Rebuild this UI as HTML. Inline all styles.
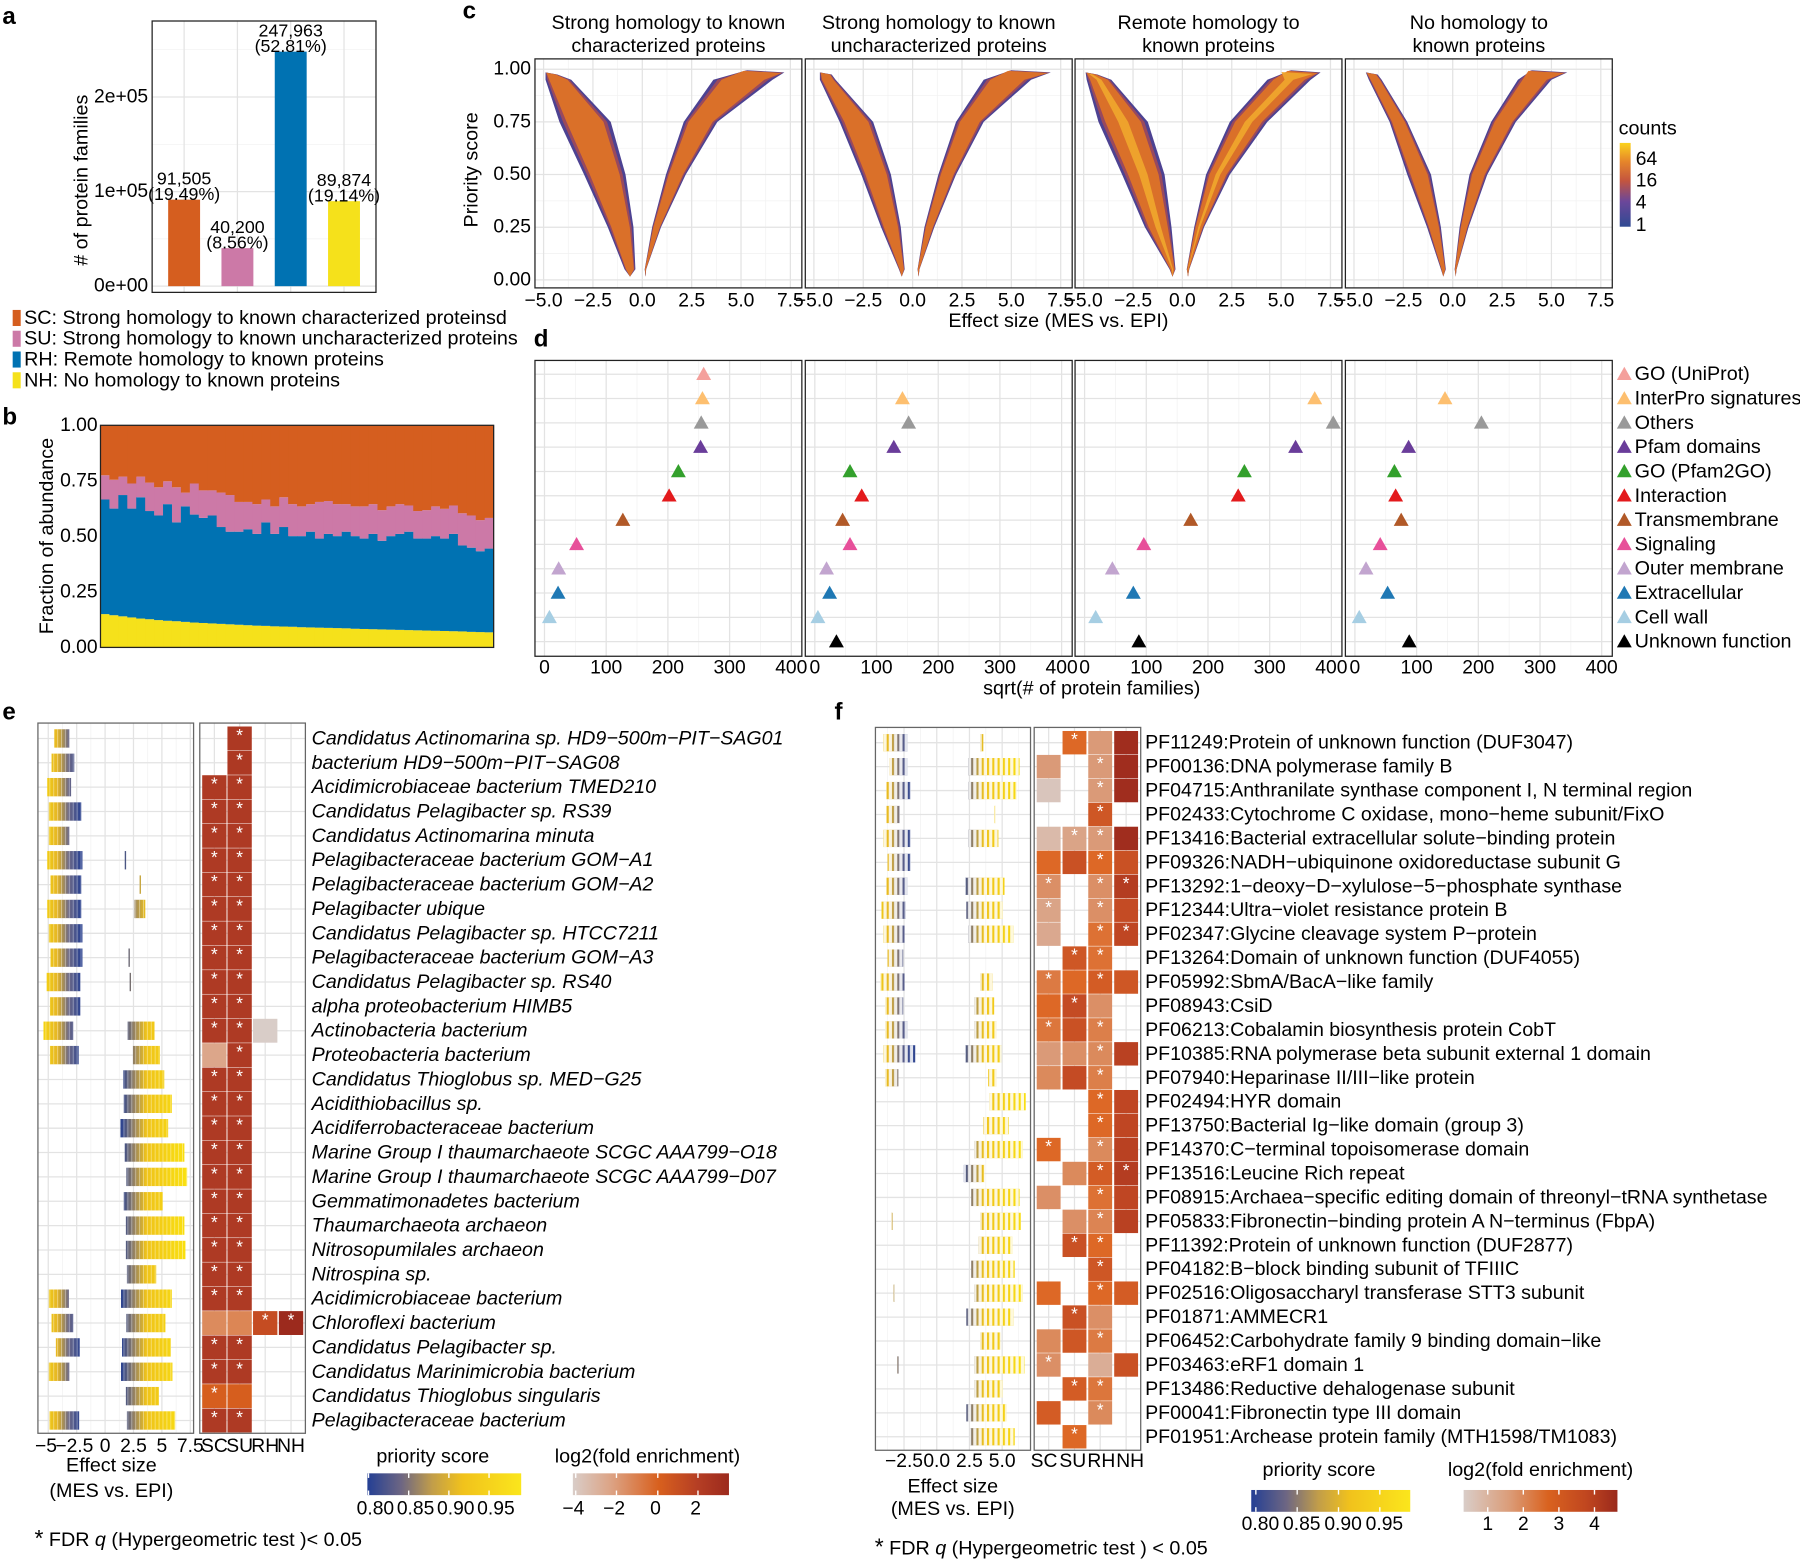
<!DOCTYPE html>
<html><head><meta charset="utf-8"><style>
html,body{margin:0;padding:0;background:#fff;}
svg{display:block;font-family:"Liberation Sans",Arial,sans-serif;}
</style></head><body>
<svg id="fig" xmlns="http://www.w3.org/2000/svg" width="1800" height="1560" viewBox="0 0 1568 1359">
<defs>
<linearGradient id="gCounts" x1="0" y1="1" x2="0" y2="0">
<stop offset="0" stop-color="#2f4a93"/><stop offset="0.3" stop-color="#6b479a"/><stop offset="0.55" stop-color="#c4553e"/><stop offset="0.78" stop-color="#e6862a"/><stop offset="1" stop-color="#fbd31c"/></linearGradient>
<linearGradient id="gPrio" x1="0" y1="0" x2="1" y2="0">
<stop offset="0" stop-color="#243f94"/><stop offset="0.22" stop-color="#6d6683"/><stop offset="0.42" stop-color="#c19d4a"/><stop offset="0.62" stop-color="#f1c21c"/><stop offset="1" stop-color="#fbe61c"/></linearGradient>
<linearGradient id="gLogE" x1="0" y1="0" x2="1" y2="0">
<stop offset="0" stop-color="#d9cdc8"/><stop offset="0.25" stop-color="#dca283"/><stop offset="0.55" stop-color="#d8601e"/><stop offset="0.8" stop-color="#b53e24"/><stop offset="1" stop-color="#9c2a1d"/></linearGradient>
<linearGradient id="gLogF" x1="0" y1="0" x2="1" y2="0">
<stop offset="0" stop-color="#d9cdc8"/><stop offset="0.3" stop-color="#db9c78"/><stop offset="0.55" stop-color="#d9621f"/><stop offset="0.8" stop-color="#c0461f"/><stop offset="1" stop-color="#9a291c"/></linearGradient>
<pattern id="stE" width="3.4" height="30" patternUnits="userSpaceOnUse"><rect x="2.2" y="0" width="0.7" height="30" fill="#fff" opacity="0.45"/></pattern>
<pattern id="stF" width="4.6" height="30" patternUnits="userSpaceOnUse"><rect x="1.4" y="0" width="2.8" height="30" fill="#fff" opacity="0.85"/></pattern>
</defs>

<text x="2" y="21" font-size="21" font-weight="bold">a</text>
<text x="2" y="370" font-size="21" font-weight="bold">b</text>
<text x="403" y="16" font-size="21" font-weight="bold">c</text>
<text x="465" y="302" font-size="21" font-weight="bold">d</text>
<text x="2" y="627" font-size="21" font-weight="bold">e</text>
<text x="727" y="627" font-size="21" font-weight="bold">f</text>

<text transform="translate(76,157) rotate(-90)" text-anchor="middle" font-size="17.2"># of protein families</text>
<text transform="translate(46,467) rotate(-90)" text-anchor="middle" font-size="17.2">Fraction of abundance</text>
<text transform="translate(416,148) rotate(-90)" text-anchor="middle" font-size="17.2">Priority score</text>
<text x="922" y="285" text-anchor="middle" font-size="17.2">Effect size (MES vs. EPI)</text>
<text x="951" y="605" text-anchor="middle" font-size="17.2">sqrt(# of protein families)</text>
<text x="1410" y="117" font-size="17.2">counts</text>

<text x="97" y="1282" text-anchor="middle" font-size="17.2">Effect size</text>
<text x="97" y="1304" text-anchor="middle" font-size="17.2">(MES vs. EPI)</text>
<text x="30" y="1347" font-size="17.2"><tspan font-size="20">*</tspan> FDR <tspan font-style="italic">q</tspan> (Hypergeometric test )&lt; 0.05</text>
<text x="377" y="1274" text-anchor="middle" font-size="17.2">priority score</text>
<text x="564" y="1274" text-anchor="middle" font-size="17.2">log2(fold enrichment)</text>

<text x="830" y="1300" text-anchor="middle" font-size="17.2">Effect size</text>
<text x="830" y="1320" text-anchor="middle" font-size="17.2">(MES vs. EPI)</text>
<text x="762" y="1354" font-size="17.2"><tspan font-size="20">*</tspan> FDR <tspan font-style="italic">q</tspan> (Hypergeometric test ) &lt; 0.05</text>
<text x="1149" y="1286" text-anchor="middle" font-size="17.2">priority score</text>
<text x="1342" y="1286" text-anchor="middle" font-size="17.2">log2(fold enrichment)</text>

<rect x="1411" y="124.5" width="9.5" height="73" fill="url(#gCounts)"/>
<rect x="320" y="1283.5" width="134" height="19" fill="url(#gPrio)"/>
<rect x="499" y="1283.5" width="136" height="19" fill="url(#gLogE)"/>
<rect x="1090" y="1298" width="138.5" height="19" fill="url(#gPrio)"/>
<rect x="1275" y="1298" width="134" height="19" fill="url(#gLogF)"/>
</svg>
<script>
const NS='http://www.w3.org/2000/svg';
const svg=document.getElementById('fig');
const FS=17.2, TS=16.8, LS=17.1;
function mk(tag,at,par){const e=document.createElementNS(NS,tag);for(const k in at)e.setAttribute(k,at[k]);(par||svg).appendChild(e);return e;}
function T(x,y,s,size,anchor,extra){const t=mk('text',Object.assign({x:x,y:y,'font-size':size,'text-anchor':anchor||'start','dominant-baseline':'central'},extra||{}));t.textContent=s;return t;}
function lerpHex(a,b,t){const pa=[1,3,5].map(i=>parseInt(a.substr(i,2),16)),pb=[1,3,5].map(i=>parseInt(b.substr(i,2),16));return 'rgb('+pa.map((v,i)=>Math.round(v+(pb[i]-v)*t)).join(',')+')';}
function scaleColor(stops,v){if(v<=stops[0][0])return stops[0][1];for(let i=1;i<stops.length;i++){if(v<=stops[i][0]){const t=(v-stops[i-1][0])/(stops[i][0]-stops[i-1][0]);return lerpHex(stops[i-1][1],stops[i][1],t);}}return stops[stops.length-1][1];}
function gline(x1,y1,x2,y2,major,name){const l=mk('line',{x1:x1,y1:y1,x2:x2,y2:y2,stroke:major?'#e3e3e3':'#f1f1f1','stroke-width':major?1.1:0.6});

return l;}
function box(x,y,w,h,name,col){const r=mk('rect',{x:x,y:y,width:w,height:h,fill:'none',stroke:col||'#222','stroke-width':1.1});

return r;}

/* ================= PANEL A ================= */
const aCats=['SC','SU','RH','NH'];
const aCounts=[91505,40200,247963,89874];
const aCountLabels=['91,505','40,200','247,963','89,874'];
const aPctLabels=['(19.49%)','(8.56%)','(52.81%)','(19.14%)'];
const aTicks=[0,100000,200000];
const aTickLabels=['0e+00','1e+05','2e+05'];
const aLegendText=['SC: Strong homology to known characterized proteinsd','SU: Strong homology to known uncharacterized proteins','RH: Remote homology to known proteins','NH: No homology to known proteins'];
const catColors=['#d55e1f','#cc79a7','#0072b2','#f5e11b'];
const ax=i=>132.5+(i+0.6)*46.43, ay=v=>249.3-v*82.4/1e5;
[50000,150000,250000].forEach(v=>gline(132.5,ay(v),327.5,ay(v),false,'a-minor-gridline'));
aTicks.forEach(v=>gline(132.5,ay(v),327.5,ay(v),true,'a-major-gridline'));
aCats.forEach((c,i)=>gline(ax(i),18.3,ax(i),254.7,true,'a-x-gridline'));
aCats.forEach((c,i)=>{
 const r=mk('rect',{x:ax(i)-13.9,y:ay(aCounts[i]),width:27.8,height:ay(0)-ay(aCounts[i]),fill:catColors[i]});
 
 
 const t1=T(ax(i),ay(aCounts[i])-18.5,aCountLabels[i],15.5,'middle');
 
 
 const t2=T(ax(i),ay(aCounts[i])-5,aPctLabels[i],15.5,'middle');
 
 
});
aTicks.forEach((v,i)=>{const t=T(129,ay(v),aTickLabels[i],TS,'end');
 
 });
box(132.5,18.3,195,236.4,'a-plot-border');
aLegendText.forEach((s,i)=>{const y=277+18.1*i;
 const r=mk('rect',{x:11,y:y-7,width:7,height:14,fill:catColors[i]});
 
 
 const t=T(21,y,s,FS,'start');
 
 });

/* ================= PANEL B ================= */
const bYellow=[0.15,0.145,0.14,0.135,0.13,0.127,0.123,0.12,0.118,0.115,0.112,0.11,0.108,0.106,0.104,0.102,0.1,0.098,0.097,0.095,0.094,0.093,0.091,0.09,0.089,0.088,0.087,0.086,0.084,0.083,0.082,0.081,0.08,0.079,0.078,0.077,0.076,0.075,0.074,0.073,0.072,0.07,0.069,0.068];
const bBlueTop=[0.666,0.625,0.686,0.625,0.676,0.614,0.594,0.645,0.563,0.635,0.598,0.583,0.594,0.542,0.521,0.521,0.532,0.511,0.563,0.511,0.542,0.501,0.501,0.521,0.49,0.511,0.501,0.521,0.501,0.49,0.511,0.48,0.501,0.511,0.521,0.49,0.49,0.501,0.49,0.511,0.459,0.449,0.433,0.445];
const bPinkTop=[0.775,0.755,0.769,0.738,0.769,0.742,0.721,0.748,0.721,0.697,0.738,0.707,0.707,0.697,0.686,0.655,0.655,0.645,0.666,0.635,0.676,0.645,0.635,0.645,0.655,0.659,0.645,0.645,0.635,0.635,0.645,0.618,0.635,0.645,0.639,0.614,0.618,0.635,0.624,0.639,0.604,0.594,0.573,0.583];
const bTicks=[0,0.25,0.5,0.75,1];
const bTickLabels=['0.00','0.25','0.50','0.75','1.00'];
const bw=342.5/bYellow.length, bx=i=>87.5+i*bw, by=s=>564-193.5*s;
bYellow.forEach((yv,i)=>{
 const segs=[[0,yv,catColors[3],'nh'],[yv,bBlueTop[i],catColors[2],'rh'],[bBlueTop[i],bPinkTop[i],catColors[1],'su'],[bPinkTop[i],1,catColors[0],'sc']];
 segs.forEach(s=>{const r=mk('rect',{x:bx(i),y:by(s[1]),width:bw+0.4,height:by(s[0])-by(s[1]),fill:s[2]});
  
  });
});
bTicks.forEach((v,i)=>{const t=T(85,by(v),bTickLabels[i],TS,'end');
 
 });
box(87.5,370.5,342.5,193.5,'b-plot-border');

/* ================= PANEL C ================= */
const cTitles=[['Strong homology to known','characterized proteins'],['Strong homology to known','uncharacterized proteins'],['Remote homology to','known proteins'],['No homology to','known proteins']];
const cScores=[0.05,0.25,0.5,0.75,0.95];
const cLeftOuter=[[-0.9,-1.75,-2.95,-4.2,-4.9],[-0.7,-1.6,-2.6,-3.7,-4.7],[-0.65,-1.9,-3.05,-4.25,-4.85],[-0.6,-1.3,-2.3,-3.2,-4.25]];
const cLeftInner=[[-0.35,-0.45,-0.85,-1.6,-3.6],[-0.4,-0.6,-1.1,-2.0,-3.9],[-0.35,-0.55,-0.9,-1.75,-3.6],[-0.35,-0.6,-1.1,-2.3,-3.6]];
const cLeftTop=[-4.6,-4.4,-4.6,-4.1];
const cRightInner=[[0.12,0.5,1.2,2.1,3.6],[0.25,0.6,1.3,2.2,3.6],[0.22,0.6,1.2,2.4,4.3],[0.1,0.35,0.85,1.95,3.3]];
const cRightOuter=[[0.2,0.95,2.2,3.8,6.6],[0.35,1.1,2.2,3.6,6.0],[0.35,1.1,2.4,4.3,6.5],[0.2,0.8,1.75,3.2,5.0]];
const cRightInnerTop=[5.3,5.0,5.5,4.0];
const cRightTip=[7.2,7.0,7.0,5.8];
const cXTicks=[-5,-2.5,0,2.5,5,7.5];
const cXTickLabels=['\u22125.0','\u22122.5','0.0','2.5','5.0','7.5'];
const cYTicks=[0,0.25,0.5,0.75,1];
const cYTickLabels=['0.00','0.25','0.50','0.75','1.00'];
const cL=[466,701.5,936.5,1172], cW=232.5;
const cx=(f,e)=>cL[f]+93.5+17.2*e, cy=s=>243.8-183.5*s;
function armPath(f,edgeA,edgeB,tip,a0,a1,bottom){
 const pts=[];
 for(let i=0;i<cScores.length;i++){const e=edgeA[i]+(edgeB[i]-edgeA[i])*a0;pts.push([cx(f,e),cy(cScores[i])]);}
 tip.forEach(p=>pts.push([cx(f,p[0]),cy(p[1])]));
 for(let i=cScores.length-1;i>=0;i--){const e=edgeA[i]+(edgeB[i]-edgeA[i])*a1;pts.push([cx(f,e),cy(cScores[i])]);}
 pts.push([cx(f,bottom),cy(0.015)]);
 return 'M'+pts.map(p=>p[0].toFixed(1)+','+p[1].toFixed(1)).join('L')+'Z';
}
cL.forEach((l,f)=>{
 [-3.75,-1.25,1.25,3.75,6.25].forEach(v=>gline(cx(f,v),51.3,cx(f,v),250.8,false,'c-minor-gridline'));
 [0.125,0.375,0.625,0.875].forEach(v=>gline(l,cy(v),l+cW,cy(v),false,'c-minor-gridline'));
 cXTicks.forEach(v=>gline(cx(f,v),51.3,cx(f,v),250.8,true,'c-major-gridline'));
 cYTicks.forEach(v=>gline(l,cy(v),l+cW,cy(v),true,'c-major-gridline'));
 const bands=[[0,1,'#43388c',0.95],[0.07,0.93,'#a24a58',0.9],[0.14,0.86,'#dd7326',0.95]];
 if(f===2) bands.push([0.4,0.6,'#f0a72c',0.9]);
 bands.forEach((b)=>{
  const lb=(cLeftOuter[f][0]+cLeftInner[f][0])/2;
  const dl=armPath(f,cLeftOuter[f],cLeftInner[f],[[cLeftTop[f]-0.3*(1-b[0]),0.985-0.01*b[0]],[cLeftTop[f]+0.6*(b[1]-0.5),0.975]],b[0],b[1],lb);
  const p=mk('path',{d:dl,fill:b[2],opacity:b[3]});
  
  
  const rb=(cRightOuter[f][0]+cRightInner[f][0])/2;
  const tipPts=[[cRightInnerTop[f]-1.2*b[0],0.995-0.02*b[0]],[cRightTip[f]-1.0*b[0],0.985-0.02*b[0]]];
  const dr=armPath(f,cRightInner[f],cRightOuter[f],tipPts,b[0],b[1],rb);
  const q=mk('path',{d:dr,fill:b[2],opacity:b[3]});
  
  
 });
 box(l,51.3,cW,199.5,'c-facet-border');
 cXTicks.forEach((v,i)=>{const t=T(cx(f,v),262,cXTickLabels[i],TS,'middle');
  
  });
 cTitles[f].forEach((s,i)=>{const t=T(l+cW/2,20+20*i,s,FS,'middle');
  
  });
});
cYTicks.forEach((v,i)=>{const t=T(462.5,cy(v),cYTickLabels[i],TS,'end');
 
 });
const countLabels=['64','16','4','1'], countPos=[139,157.5,177,196.4];
countLabels.forEach((s,i)=>{const t=T(1425,countPos[i],s,TS,'start');
 
 });

/* ================= PANEL D ================= */
const dCats=['GO (UniProt)','InterPro signatures','Others','Pfam domains','GO (Pfam2GO)','Interaction','Transmembrane','Signaling','Outer membrane','Extracellular','Cell wall','Unknown function'];
const dColors=['#f4a09c','#fdbf6f','#999999','#6a3d9a','#33a02c','#e31a1c','#b15928','#e7509a','#c2a5cf','#1f78b4','#a6cee3','#000000'];
const dSC=[258,256,254,253,217,202,127,52,23,22,8,null];
const dSU=[null,142,152,128,57,76,45,57,19,24,5,35];
const dRH=[null,373,403,342,259,249,172,96,45,79,18,88];
const dNH=[null,146,205,87,64,66,75,41,18,53,7,88];
const dXTicks=[0,100,200,300,400];
const dSeries=[dSC,dSU,dRH,dNH];
const dx=(f,v)=>cL[f]+8.3+0.5375*v, dy=i=>326+21.18*i;
function tri(x,y,col,name){const p=mk('path',{d:`M${x},${y-6.5}L${x+6.5},${y+5}L${x-6.5},${y+5}Z`,fill:col});
 
 return p;}
cL.forEach((l,f)=>{
 [50,150,250,350].forEach(v=>gline(dx(f,v),314,dx(f,v),571.7,false,'d-minor-gridline'));
 dXTicks.forEach(v=>gline(dx(f,v),314,dx(f,v),571.7,true,'d-major-gridline'));
 dCats.forEach((c,i)=>gline(l,dy(i),l+cW,dy(i),true,'d-row-gridline'));
 dSeries[f].forEach((v,i)=>{if(v!==null)tri(dx(f,v),dy(i),dColors[i],'point-'+dCats[i].toLowerCase().replace(/[^a-z0-9]+/g,'-'));});
 box(l,314,cW,257.7,'d-facet-border');
 dXTicks.forEach(v=>{const t=T(dx(f,v),582,String(v),TS,'middle');
  
  });
});
dCats.forEach((c,i)=>{tri(1415,dy(i),dColors[i],'legend-entry-marker');
 const t=T(1424,dy(i),c,FS,'start');
 
 });

/* ================= shared heat helpers ================= */
function star(x,y){const t=T(x,y+2,'*',15,'middle',{fill:'#fff'});
 
 }
function strip(x1,x2,y,h,grad,pat){
 const r=mk('rect',{x:x1,y:y-h/2,width:Math.max(x2-x1,1.2),height:h,fill:grad});
 
 
 const o=mk('rect',{x:x1,y:y-h/2,width:Math.max(x2-x1,1.2),height:h,fill:pat});
 
 }

/* ================= PANEL E ================= */
const eSpecies=['Candidatus Actinomarina sp. HD9\u2212500m\u2212PIT\u2212SAG01','bacterium HD9\u2212500m\u2212PIT\u2212SAG08','Acidimicrobiaceae bacterium TMED210','Candidatus Pelagibacter sp. RS39','Candidatus Actinomarina minuta','Pelagibacteraceae bacterium GOM\u2212A1','Pelagibacteraceae bacterium GOM\u2212A2','Pelagibacter ubique','Candidatus Pelagibacter sp. HTCC7211','Pelagibacteraceae bacterium GOM\u2212A3','Candidatus Pelagibacter sp. RS40','alpha proteobacterium HIMB5','Actinobacteria bacterium','Proteobacteria bacterium','Candidatus Thioglobus sp. MED\u2212G25','Acidithiobacillus sp.','Acidiferrobacteraceae bacterium','Marine Group I thaumarchaeote SCGC AAA799\u2212O18','Marine Group I thaumarchaeote SCGC AAA799\u2212D07','Gemmatimonadetes bacterium','Thaumarchaeota archaeon','Nitrosopumilales archaeon','Nitrospina sp.','Acidimicrobiaceae bacterium','Chloroflexi bacterium','Candidatus Pelagibacter sp.','Candidatus Marinimicrobia bacterium','Candidatus Thioglobus singularis','Pelagibacteraceae bacterium'];
const eSC=[null,null,2.3,2.3,2.3,2.3,2.3,2.3,2.3,2.3,2.3,2.3,2.3,-2.2,2.3,2.3,2.3,2.3,2.3,2.3,2.3,2.3,2.3,2.3,-1.0,2.3,2.3,0.6,2.3];
const eSU=[2.4,2.4,2.3,2.3,2.3,2.3,2.3,2.3,2.3,2.3,2.3,2.3,2.3,2.3,2.3,2.3,2.3,2.3,2.3,2.3,2.3,2.3,2.3,2.3,-0.8,2.3,2.3,0.6,2.3];
const eRH=[null,null,null,null,null,null,null,null,null,null,null,null,-4,null,null,null,null,null,null,null,null,null,null,null,1.6,null,null,null,null];
const eNH=[null,null,null,null,null,null,null,null,null,null,null,null,null,null,null,null,null,null,null,null,null,null,null,null,3.5,null,null,null,null];
const eSig=['0100','0100','1100','1100','1100','1100','1100','1100','1100','1100','1100','1100','1100','0100','1100','1100','1100','1100','1100','1100','1100','1100','1100','1100','0011','1100','1100','1000','1100'];
const eLeft=[[-4.47,-3.13],[-4.71,-2.71],[-5.09,-2.99],[-4.95,-2.09],[-4.95,-3.13],[-5.09,-1.99],[-4.8,-2.09],[-5.09,-2.09],[-4.95,-1.99],[-4.8,-1.99],[-5.14,-2.18],[-4.85,-2.18],[-5.42,-2.8],[-4.85,-2.32],null,null,null,null,null,null,null,null,null,[-4.95,-3.18],[-4.71,-2.8],[-4.33,-2.23],[-4.95,-3.13],null,[-4.9,-2.28]];
const eRight=[null,null,null,null,null,[1.73,1.83],[3.02,3.16],[2.59,3.54],null,[2.06,2.16],[2.16,2.22],null,[1.97,4.35],[2.45,4.83],[1.59,5.21],[1.64,5.88],[1.35,5.55],[1.73,6.98],[1.87,7.22],[1.64,5.07],[1.83,6.98],[1.83,7.07],[1.92,4.5],[1.4,5.88],[1.87,5.31],[1.49,5.79],[1.4,5.93],[1.83,4.74],[1.92,6.17]];
const eXTicks=[-5,-2.5,0,2.5,5,7.5];
const eXTickLabels=['\u22125','\u22122.5','0','2.5','5','7.5'];
const eCols=['SC','SU','RH','NH'];
const eStops=[[-4,'#d9cdc8'],[-2,'#dca283'],[-0.5,'#dc7f4a'],[0.5,'#d8601e'],[1.5,'#c84e22'],[2.3,'#ae3a24'],[3.5,'#9c2a1d']];
const ex=e=>91.5+9.9*e, ey=i=>643.3+21.22*i;
const eColX=[186.7,208.7,231,253.5];
(function(){const g=mk('linearGradient',{id:'gStripE',gradientUnits:'userSpaceOnUse',x1:ex(-5.5),y1:0,x2:ex(7.5),y2:0},svg.querySelector('defs'));
[[ -5.5,'#f6d60f'],[-4.2,'#e6b624'],[-3.2,'#6d6a88'],[-2.2,'#2f4590'],[1.5,'#2f4590'],[2.6,'#9a8560'],[3.6,'#efc31a'],[7.5,'#fbe30f']].forEach(s=>mk('stop',{offset:((s[0]+5.5)/13).toFixed(3),'stop-color':s[1]},g));})();
[-3.75,-1.25,1.25,3.75,6.25].forEach(v=>gline(ex(v),629.9,ex(v),1248.6,false,'e-minor-gridline'));
eXTicks.forEach(v=>gline(ex(v),629.9,ex(v),1248.6,true,'e-major-gridline'));
eSpecies.forEach((s,i)=>{gline(33,ey(i),168.6,ey(i),true,'e-row-gridline');gline(174,ey(i),266,ey(i),true,'e-heat-row-gridline');});
eColX.forEach(x=>gline(x,629.9,x,1248.6,true,'e-heat-col-gridline'));
eSpecies.forEach((s,i)=>{
 if(eLeft[i])strip(ex(eLeft[i][0]),ex(eLeft[i][1]),ey(i),16,'url(#gStripE)','url(#stE)');
 if(eRight[i])strip(ex(eRight[i][0]),ex(eRight[i][1]),ey(i),16,'url(#gStripE)','url(#stE)');
 [eSC,eSU,eRH,eNH].forEach((arr,c)=>{const v=arr[i];if(v===null)return;
  const r=mk('rect',{x:eColX[c]-10.6,y:ey(i)-10.4,width:21.2,height:20.8,fill:scaleColor(eStops,v)});
  
  
  if(eSig[i][c]==='1')star(eColX[c],ey(i)-5);});
 const t=T(271.5,ey(i),s,LS,'start',{'font-style':'italic'});
 
 
});
box(33,629.9,135.6,618.7,'e-strip-plot-border','#666');
box(174,629.9,92,618.7,'e-heatmap-border','#666');
eXTicks.forEach((v,i)=>{const t=T(ex(v)-(v<0?2:0),1260,eXTickLabels[i],TS,'middle');
 
 });
eCols.forEach((c,i)=>{const t=T(eColX[i],1260,c,TS,'middle');
 
 });

/* ================= PANEL F ================= */
const fDomains=['PF11249:Protein of unknown function (DUF3047)','PF00136:DNA polymerase family B','PF04715:Anthranilate synthase component I, N terminal region','PF02433:Cytochrome C oxidase, mono\u2212heme subunit/FixO','PF13416:Bacterial extracellular solute\u2212binding protein','PF09326:NADH\u2212ubiquinone oxidoreductase subunit G','PF13292:1\u2212deoxy\u2212D\u2212xylulose\u22125\u2212phosphate synthase','PF12344:Ultra\u2212violet resistance protein B','PF02347:Glycine cleavage system P\u2212protein','PF13264:Domain of unknown function (DUF4055)','PF05992:SbmA/BacA\u2212like family','PF08943:CsiD','PF06213:Cobalamin biosynthesis protein CobT','PF10385:RNA polymerase beta subunit external 1 domain','PF07940:Heparinase II/III\u2212like protein','PF02494:HYR domain','PF13750:Bacterial Ig\u2212like domain (group 3)','PF14370:C\u2212terminal topoisomerase domain','PF13516:Leucine Rich repeat','PF08915:Archaea\u2212specific editing domain of threonyl\u2212tRNA synthetase','PF05833:Fibronectin\u2212binding protein A N\u2212terminus (FbpA)','PF11392:Protein of unknown function (DUF2877)','PF04182:B\u2212block binding subunit of TFIIIC','PF02516:Oligosaccharyl transferase STT3 subunit','PF01871:AMMECR1','PF06452:Carbohydrate family 9 binding domain\u2212like','PF03463:eRF1 domain 1','PF13486:Reductive dehalogenase subunit','PF00041:Fibronectin type III domain','PF01951:Archease protein family (MTH1598/TM1083)'];
const fSC=[null,2.0,1.0,null,1.3,3.0,2.2,1.8,1.7,null,2.6,3.0,2.7,2.0,2.3,null,null,3.0,null,2.2,null,null,null,3.0,null,2.3,2.2,null,3.2,null];
const fSU=[3.0,null,null,null,1.8,3.4,null,null,null,3.3,3.0,3.5,3.4,2.2,3.5,null,null,null,2.3,null,2.2,3.4,null,null,3.4,3.3,null,3.2,null,3.0];
const fRH=[2.0,2.0,2.0,3.3,2.0,3.0,2.2,2.2,2.8,2.8,3.2,2.2,2.5,2.3,2.5,3.0,3.0,2.3,3.2,2.8,2.4,3.0,3.3,3.0,2.2,2.6,1.6,2.7,2.3,null];
const fNH=[4.3,4.3,4.3,null,4.3,3.4,3.8,3.5,3.6,null,3.3,null,null,3.7,null,3.6,3.6,3.7,3.8,3.6,3.7,null,null,3.2,null,null,3.4,null,null,null];
const fSig=['0100','0010','0010','0010','0110','0010','1011','1010','0011','0110','1010','0100','1010','0010','0010','0010','0010','1010','0011','0010','0010','0110','0010','0010','0100','0010','1000','0110','0010','0100'];
const fLeft=[[-4.08,-2.23],[-3.62,-2.23],[-3.85,-2.0],[-3.85,-2.83],[-4.08,-2.0],[-3.76,-2.0],[-3.85,-2.23],[-4.22,-2.37],[-4.08,-2.46],[-3.76,-2.56],[-4.31,-2.46],[-3.94,-2.56],[-3.94,-2.23],[-4.08,-1.63],[-3.94,-2.93],null,null,null,null,null,[-3.48,-3.4],null,null,[-3.3,-3.22],null,null,[-3.02,-2.94],null,null,null];
const fRight=[[3.32,3.56],[2.4,6.33],[2.4,6.1],[4.39,4.48],[2.4,4.71],null,[2.17,5.18],[2.26,5.04],[2.4,5.87],null,[3.32,4.25],[2.86,4.39],[2.86,4.57],[2.17,4.95],[3.93,4.57],[4.02,6.8],[3.56,5.5],[2.86,6.57],[2.07,3.65],[2.63,6.33],[3.32,6.43],[3.19,5.78],[2.63,5.96],[2.86,6.57],[2.26,5.87],[3.32,4.85],[2.86,6.7],[2.86,5.04],[2.26,5.32],[2.54,5.96]];
const fXTicks=[-2.5,0,2.5,5];
const fXTickLabels=['\u22122.5','0.0','2.5','5.0'];
const fStops=[[0.8,'#d9cdc8'],[1.5,'#dab29e'],[2,'#da9a78'],[2.5,'#dc7f4a'],[3,'#dd6826'],[3.5,'#c44b24'],[4,'#a9331f'],[4.4,'#9d2b1d']];
const fx=e=>816+11.4*e, fy=i=>647+20.85*i;
const fColX=[913.5,936,958.4,981];
(function(){const g=mk('linearGradient',{id:'gStripF',gradientUnits:'userSpaceOnUse',x1:fx(-4.7),y1:0,x2:fx(7.2),y2:0},svg.querySelector('defs'));
[[-4.7,'#f6d60f'],[-3.6,'#e6b624'],[-2.8,'#6d6a88'],[-2.0,'#2f4590'],[2.0,'#2f4590'],[2.8,'#9a8560'],[3.6,'#efc31a'],[7.2,'#fbe30f']].forEach(s=>mk('stop',{offset:((s[0]+4.7)/11.9).toFixed(3),'stop-color':s[1]},g));})();
[-3.75,-1.25,1.25,3.75,6.25].forEach(v=>gline(fx(v),633.7,fx(v),1263.4,false,'f-minor-gridline'));
fXTicks.forEach(v=>gline(fx(v),633.7,fx(v),1263.4,true,'f-major-gridline'));
fDomains.forEach((s,i)=>{gline(762.6,fy(i),897.7,fy(i),true,'f-row-gridline');gline(900.9,fy(i),993.7,fy(i),true,'f-heat-row-gridline');});
fColX.forEach(x=>gline(x,633.7,x,1263.4,true,'f-heat-col-gridline'));
fDomains.forEach((s,i)=>{
 if(fLeft[i])strip(fx(fLeft[i][0]),fx(fLeft[i][1]),fy(i),15,'url(#gStripF)','url(#stF)');
 if(fRight[i])strip(fx(fRight[i][0]),fx(fRight[i][1]),fy(i),15,'url(#gStripF)','url(#stF)');
 [fSC,fSU,fRH,fNH].forEach((arr,c)=>{const v=arr[i];if(v===null)return;
  const r=mk('rect',{x:fColX[c]-10.4,y:fy(i)-10.2,width:20.8,height:20.4,fill:scaleColor(fStops,v)});
  
  
  if(fSig[i][c]==='1')star(fColX[c],fy(i)-5);});
 const t=T(997.5,fy(i),s,LS,'start');
 
 
});
box(762.6,633.7,135.1,629.7,'f-strip-plot-border','#666');
box(900.9,633.7,92.8,629.7,'f-heatmap-border','#666');
fXTicks.forEach((v,i)=>{const t=T(fx(v),1273,fXTickLabels[i],TS,'middle');
 
 });
eCols.forEach((c,i)=>{const t=T(fColX[i]-4+2.5*i,1273,c,TS,'middle');
 
 });

/* ================= colorbar labels ================= */
const prioLabels=['0.80','0.85','0.90','0.95'];
const ePrioPos=[321,356,391,426], fPrioPos=[1094,1130,1166,1202];
const eLogLabels=['\u22124','\u22122','0','2'], eLogPos=[501.5,537,573,608];
const fLogLabels=['1','2','3','4'], fLogPos=[1296,1327,1358,1389];
function cbTicks(pos,top,h,labels,ly,name,dx){pos.forEach((x,i)=>{
 const a=mk('line',{x1:x,y1:top,x2:x,y2:top+4,stroke:'#fff','stroke-width':1.2});
 
 
 const b=mk('line',{x1:x,y1:top+h-4,x2:x,y2:top+h,stroke:'#fff','stroke-width':1.2});
 
 
 const t=T(x+(dx||0),ly,labels[i],TS,'middle');
 
 });}
cbTicks(ePrioPos,1283.5,19,prioLabels,1314.5,'e-priority-legend-label',6);
cbTicks(eLogPos,1283.5,19,eLogLabels,1314.5,'e-log2-legend-label',-2);
cbTicks(fPrioPos,1298,19,prioLabels,1328,'f-priority-legend-label',4);
cbTicks(fLogPos,1298,19,fLogLabels,1328,'f-log2-legend-label',0);
</script>
</body></html>
